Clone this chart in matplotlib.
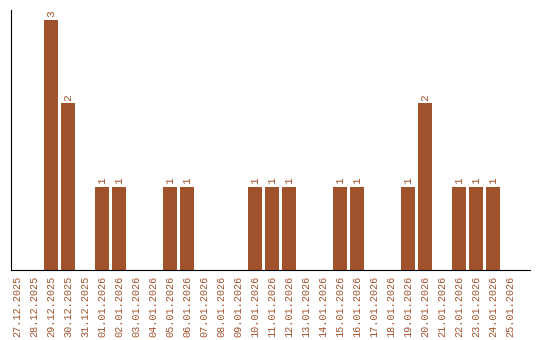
import matplotlib
matplotlib.use("Agg")
import matplotlib.pyplot as plt

dates = [
    "27.12.2025", "28.12.2025", "29.12.2025", "30.12.2025", "31.12.2025",
    "01.01.2026", "02.01.2026", "03.01.2026", "04.01.2026", "05.01.2026",
    "06.01.2026", "07.01.2026", "08.01.2026", "09.01.2026", "10.01.2026",
    "11.01.2026", "12.01.2026", "13.01.2026", "14.01.2026", "15.01.2026",
    "16.01.2026", "17.01.2026", "18.01.2026", "19.01.2026", "20.01.2026",
    "21.01.2026", "22.01.2026", "23.01.2026", "24.01.2026", "25.01.2026",
]
counts = [0, 0, 3, 2, 0, 1, 1, 0, 0, 1, 1, 0, 0, 0, 1,
          1, 1, 0, 0, 1, 1, 0, 0, 1, 2, 0, 1, 1, 1, 0]

color = "#A0522D"
font = "Liberation Mono"

fig = plt.figure(figsize=(5.4, 3.4), dpi=100)
ax = fig.add_axes([0.0204, 0.2059, 0.9611, 0.7647])

x = list(range(len(dates)))
ax.bar(x, counts, width=0.82, color=color)

for i, v in enumerate(counts):
    if v > 0:
        ax.text(i, v + 0.03, str(v), rotation=90, ha="center", va="bottom",
                color=color, fontsize=8, family=font)

ax.set_xlim(-0.35, 30.18)
ax.set_ylim(0, 3.12)
ax.set_xticks(x)
ax.set_xticklabels(dates, rotation=90, color=color, fontsize=7.3, family=font)
ax.tick_params(axis="x", length=0, pad=4)
ax.set_yticks([])
ax.spines["top"].set_visible(False)
ax.spines["right"].set_visible(False)

plt.savefig("out.png", dpi=100)
